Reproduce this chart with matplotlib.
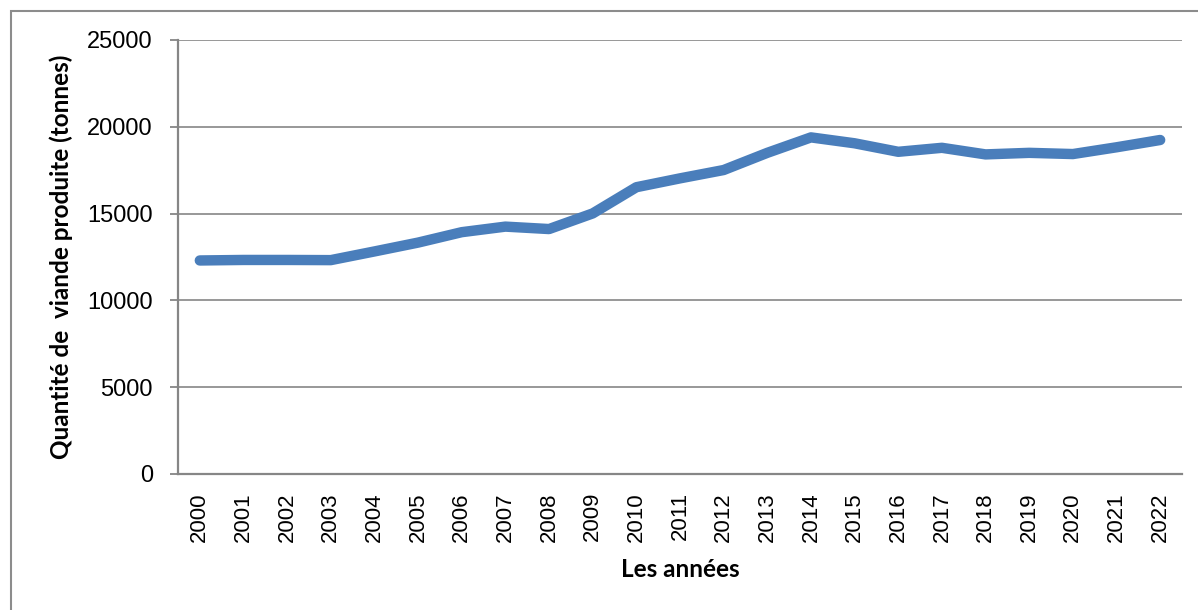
import matplotlib
matplotlib.use("Agg")
import matplotlib.pyplot as plt
from matplotlib.patches import Rectangle

# donnees
annees = [str(a) for a in range(2000, 2023)]
quantite = [12300, 12330, 12330, 12320, 12820, 13330, 13930, 14250, 14110, 15010,
            16520, 17030, 17510, 18500, 19390, 19050, 18560, 18790, 18410, 18500,
            18430, 18820, 19240]
yticks = [0, 5000, 10000, 15000, 20000, 25000]

gris = "#868686"
bleu = "#4A7EBB"

fig = plt.figure(figsize=(11.98, 6.10), dpi=100)
ax = fig.add_axes([178/1198, 1 - 474/610, (1182 - 178)/1198, (474 - 40)/610])

x = range(len(annees))
ax.plot(x, quantite, color=bleu, linewidth=7.5, solid_capstyle="round",
        solid_joinstyle="round", zorder=3)

ax.set_xlim(-0.5, len(annees) - 0.5)
ax.set_ylim(0, 25000)
ax.set_xticks(list(x))
ax.set_xticklabels(annees, rotation=90, fontsize=16, family="Liberation Sans")
ax.set_yticks(yticks)
ax.set_yticklabels([str(v) for v in yticks], fontsize=17, family="Liberation Sans")

ax.tick_params(axis="x", length=0, pad=13)
ax.tick_params(axis="y", length=6, width=1.3, color=gris, pad=12)

ax.grid(axis="y", color=gris, linewidth=1.2)
ax.set_axisbelow(True)
for s in ["top", "right"]:
    ax.spines[s].set_visible(False)
for s in ["left", "bottom"]:
    ax.spines[s].set_color(gris)
    ax.spines[s].set_linewidth(1.6)

ax.set_ylabel("Quantité de  viande produite (tonnes)", fontsize=17.5, family="Lato",
              fontweight="bold", labelpad=10)
ax.set_xlabel("Les années", fontsize=17.5, family="Lato", fontweight="bold", labelpad=12)

# cadre exterieur
fig.add_artist(Rectangle((11/1198, -0.1), 1.2, 1.1 - 11/610, transform=fig.transFigure,
                         fill=False, edgecolor="#8c8c8c", linewidth=1.5, clip_on=False))

fig.savefig("out.png", dpi=100)
